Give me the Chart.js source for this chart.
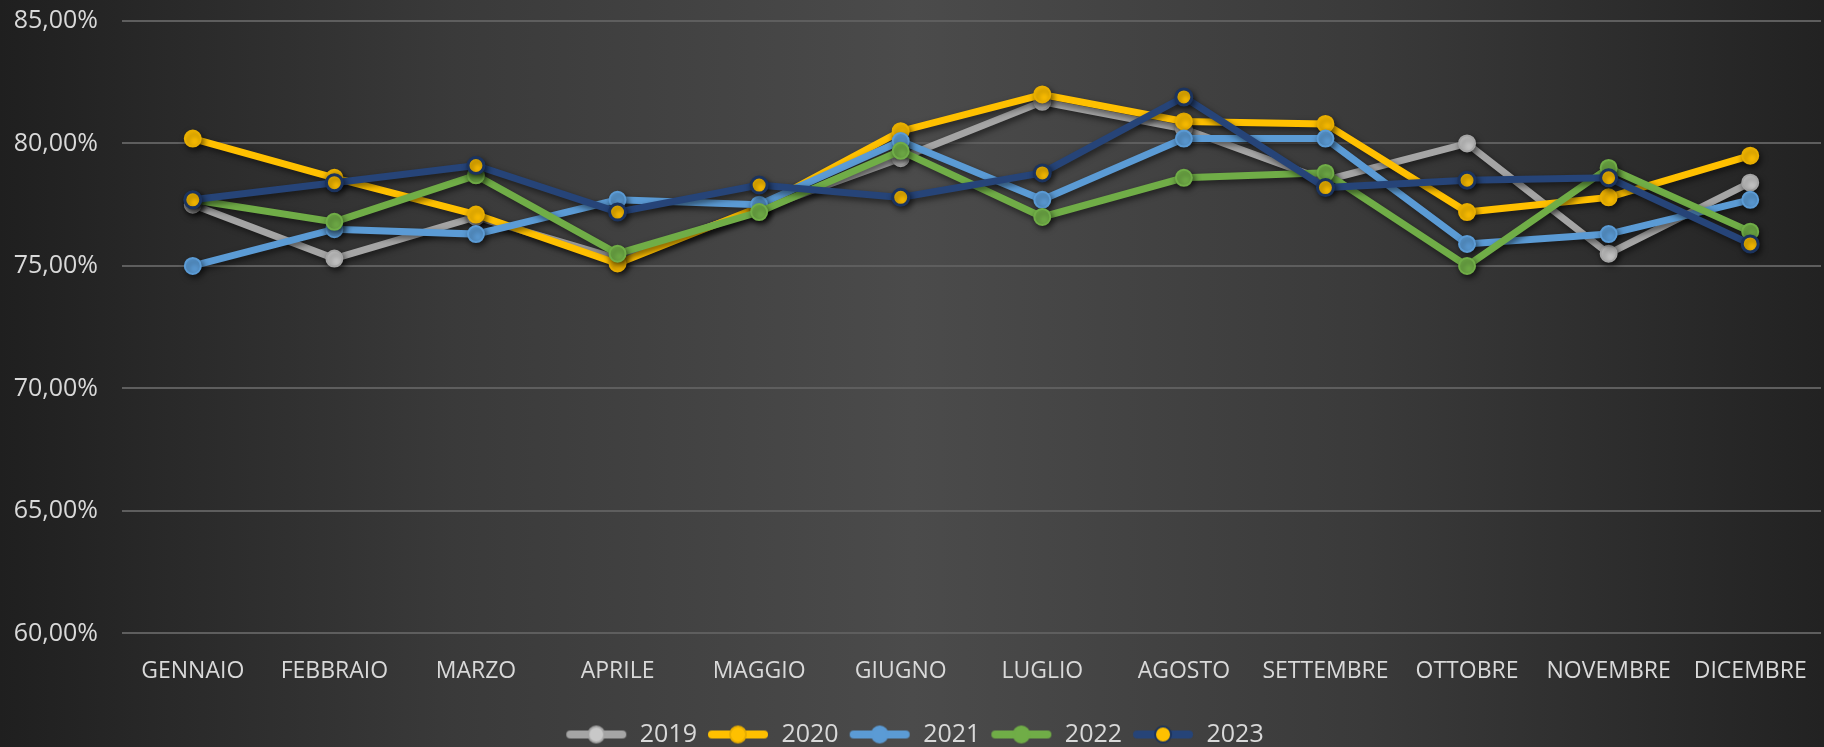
<!DOCTYPE html>
<html lang="it">
<head>
    <meta charset="UTF-8">
    <title>Andamento mensile 2019-2023</title>
    <style>
        html, body { margin: 0; padding: 0; }
        body {
            width: 1824px;
            height: 747px;
            overflow: hidden;
            background: linear-gradient(to right, #1f1f1f 0%, #3a3a3a 25%, #4b4b4b 50%, #3a3a3a 75%, #222222 100%);
        }
        .wrap { position: relative; width: 1824px; height: 747px; }
    </style>
</head>
<body>
    <div class="wrap">
        <canvas id="grafico" width="1824" height="747"></canvas>
    </div>

    <script src="https://cdn.jsdelivr.net/npm/chart.js"></script>
    <script>
        // Dati (percentuali)
        const mesi = ['GENNAIO', 'FEBBRAIO', 'MARZO', 'APRILE', 'MAGGIO', 'GIUGNO', 'LUGLIO', 'AGOSTO', 'SETTEMBRE', 'OTTOBRE', 'NOVEMBRE', 'DICEMBRE'];
        const anni = ['2019', '2020', '2021', '2022', '2023'];
        const valori2019 = [77.5, 75.3, 77.0, 75.3, 77.3, 79.4, 81.7, 80.6, 78.5, 80.0, 75.5, 78.4];
        const valori2020 = [80.2, 78.6, 77.1, 75.1, 77.4, 80.5, 82.0, 80.9, 80.8, 77.2, 77.8, 79.5];
        const valori2021 = [75.0, 76.5, 76.3, 77.7, 77.5, 80.1, 77.7, 80.2, 80.2, 75.9, 76.3, 77.7];
        const valori2022 = [77.7, 76.8, 78.7, 75.5, 77.2, 79.7, 77.0, 78.6, 78.8, 75.0, 79.0, 76.4];
        const valori2023 = [77.7, 78.4, 79.1, 77.2, 78.3, 77.8, 78.8, 81.9, 78.2, 78.5, 78.6, 75.9];
        const asseMin = 60;
        const asseMax = 85;
        const passo = 5;

        const serie = [valori2019, valori2020, valori2021, valori2022, valori2023];
        const colori = ['#A5A5A5', '#FFC000', '#5B9BD5', '#70AD47', '#264478'];
        const riempimenti = ['#C8C8C8', '#FFC000', '#5B9BD5', '#70AD47', '#FFC000'];
        const bordiPunti = ['#A5A5A5', '#E8AE00', '#5B9BD5', '#70AD47', '#1B335E'];

        // Icona della legenda: linea con marcatore al centro
        function iconaLegenda(i) {
            const c = document.createElement('canvas');
            c.width = 62; c.height = 22;
            const g = c.getContext('2d');
            g.strokeStyle = colori[i];
            g.lineWidth = 8;
            g.lineCap = 'round';
            g.beginPath(); g.moveTo(5, 11); g.lineTo(57, 11); g.stroke();
            g.beginPath(); g.arc(31, 11, 8, 0, Math.PI * 2);
            g.fillStyle = riempimenti[i]; g.fill();
            g.lineWidth = 2; g.strokeStyle = bordiPunti[i]; g.stroke();
            return c;
        }

        // Ombra sotto le linee
        const ombra = {
            id: 'ombra',
            beforeDatasetsDraw(chart) {
                const ctx = chart.ctx;
                ctx.save();
                ctx.shadowColor = 'rgba(0,0,0,0.55)';
                ctx.shadowBlur = 6;
                ctx.shadowOffsetX = 2;
                ctx.shadowOffsetY = 3;
            },
            afterDatasetsDraw(chart) {
                chart.ctx.restore();
            }
        };

        const ctx = document.getElementById('grafico').getContext('2d');
        new Chart(ctx, {
            type: 'line',
            data: {
                labels: mesi,
                datasets: anni.map((anno, i) => ({
                    label: anno,
                    data: serie[i],
                    borderColor: colori[i],
                    backgroundColor: colori[i],
                    borderWidth: 7,
                    pointRadius: 8,
                    pointBorderWidth: i === 4 ? 3 : 2,
                    pointBackgroundColor: riempimenti[i],
                    pointBorderColor: bordiPunti[i],
                    tension: 0,
                    clip: false,
                    order: anni.length - i
                }))
            },
            plugins: [ombra],
            options: {
                responsive: false,
                animation: false,
                layout: { autoPadding: false, padding: { top: 0, left: 8, right: 3, bottom: -10 } },
                plugins: {
                    tooltip: { enabled: false },
                    legend: {
                        position: 'bottom',
                        labels: {
                            color: '#D9D9D9',
                            font: { family: 'Open Sans', size: 25 },
                            usePointStyle: true,
                            pointStyleWidth: 62,
                            boxHeight: 22,
                            padding: 10,
                            sort: (a, b) => a.datasetIndex - b.datasetIndex,
                            generateLabels(chart) {
                                return anni.map((anno, i) => ({
                                    text: anno,
                                    fontColor: '#D9D9D9',
                                    pointStyle: iconaLegenda(i),
                                    datasetIndex: i,
                                    hidden: false
                                }));
                            }
                        }
                    }
                },
                scales: {
                    x: {
                        offset: true,
                        afterFit(scale) { scale.height += 11; },
                        grid: { display: false },
                        border: { display: false },
                        ticks: {
                            color: '#D9D9D9',
                            font: { family: 'Open Sans', size: 23 },
                            maxRotation: 0,
                            autoSkip: false,
                            padding: 16
                        }
                    },
                    y: {
                        min: asseMin,
                        max: asseMax,
                        afterFit(scale) {
                            scale.width = 114;
                            scale.paddingTop = 21;
                            scale.paddingBottom = 0;
                        },
                        grid: { color: '#5E5E5E', lineWidth: 2, drawTicks: false },
                        border: { display: false },
                        ticks: {
                            stepSize: passo,
                            color: '#D9D9D9',
                            font: { family: 'Open Sans', size: 25 },
                            padding: 24,
                            callback: v => v.toFixed(2).replace('.', ',') + '%'
                        }
                    }
                }
            }
        });
    </script>
</body>
</html>
